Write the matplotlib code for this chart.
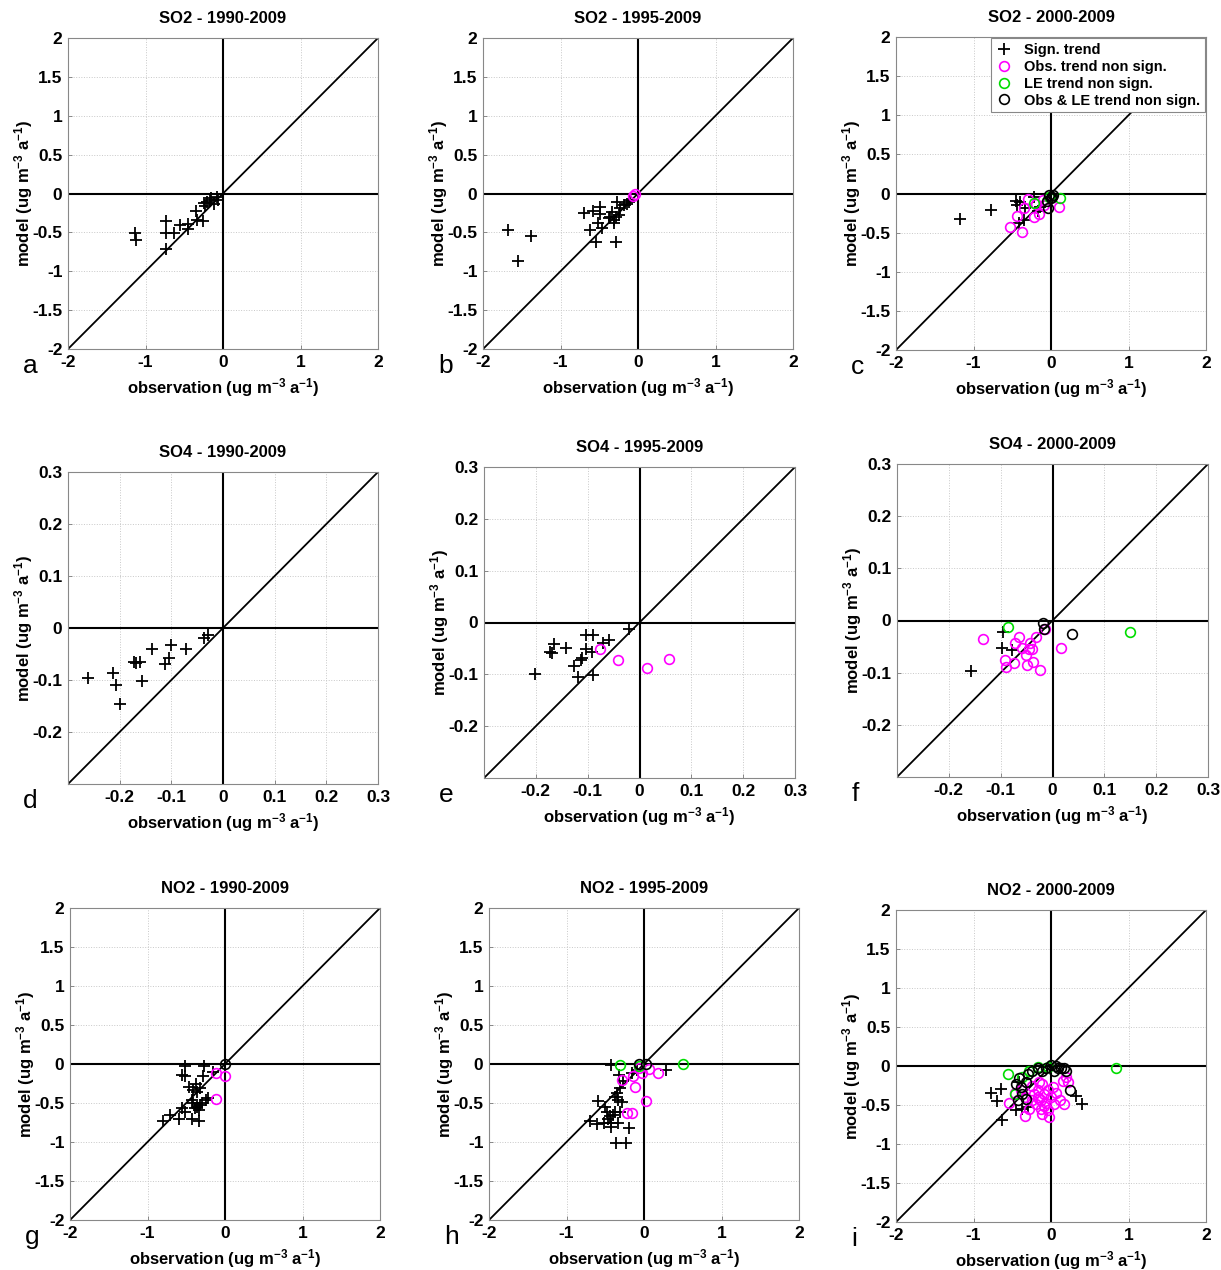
import matplotlib
matplotlib.use('Agg')
import matplotlib.pyplot as plt
import numpy as np

plt.rcParams['font.family'] = ['Liberation Sans', 'DejaVu Sans']
plt.rcParams['font.weight'] = 'bold'
plt.rcParams['axes.unicode_minus'] = False
plt.rcParams['mathtext.fontset'] = 'custom'
plt.rcParams['mathtext.rm'] = 'Liberation Sans:bold'
plt.rcParams['mathtext.default'] = 'rm'

# (observation, model) trend pairs
# sig = both significant, obs = obs. non sign., le = LE non sign., both = both non sign.
so2_90_sig = [(-1.14, -0.51), (-1.12, -0.60), (-0.74, -0.35), (-0.74, -0.51), (-0.73, -0.71),
              (-0.63, -0.51), (-0.56, -0.41), (-0.45, -0.39), (-0.45, -0.46), (-0.35, -0.23),
              (-0.34, -0.34), (-0.26, -0.36), (-0.25, -0.12), (-0.21, -0.11), (-0.17, -0.09),
              (-0.12, -0.13), (-0.08, -0.04), (-0.23, -0.16), (-0.15, -0.06), (-0.06, -0.08)]
so2_90_obs, so2_90_le, so2_90_both = [], [], []

so2_95_sig = [(-1.68, -0.47), (-1.38, -0.55), (-1.55, -0.87), (-0.70, -0.25), (-0.58, -0.23),
              (-0.49, -0.17), (-0.49, -0.26), (-0.62, -0.47), (-0.54, -0.62), (-0.51, -0.38),
              (-0.47, -0.44), (-0.38, -0.32), (-0.34, -0.24), (-0.31, -0.34), (-0.31, -0.38),
              (-0.28, -0.63), (-0.27, -0.11), (-0.25, -0.28), (-0.23, -0.19), (-0.18, -0.15),
              (-0.14, -0.13), (-0.10, -0.09), (-0.12, -0.11), (-0.36, -0.30), (-0.29, -0.30)]
so2_95_obs = [(-0.07, -0.03), (-0.04, -0.01)]
so2_95_le, so2_95_both = [], []

so2_00_sig = [(-1.17, -0.32), (-0.78, -0.21), (-0.45, -0.10), (-0.40, -0.11), (-0.44, -0.15),
              (-0.34, -0.19), (-0.41, -0.38), (-0.35, -0.34), (-0.17, -0.22), (-0.14, -0.17),
              (-0.22, -0.04)]
so2_00_obs = [(-0.53, -0.43), (-0.44, -0.29), (-0.38, -0.49), (-0.35, -0.19), (-0.30, -0.07),
              (-0.22, -0.30), (-0.16, -0.26), (-0.10, -0.08), (0.10, -0.17), (-0.09, -0.15),
              (-0.19, -0.14)]
so2_00_le = [(-0.22, -0.12), (0.12, -0.06), (-0.03, -0.04)]
so2_00_both = [(-0.03, -0.02), (0.01, -0.04), (-0.04, -0.19), (0.0, -0.06), (0.03, -0.02),
               (-0.05, -0.09)]

so4_90_sig = [(-0.262, -0.097), (-0.213, -0.087), (-0.208, -0.110), (-0.200, -0.147),
              (-0.173, -0.065), (-0.161, -0.065), (-0.157, -0.102), (-0.137, -0.040),
              (-0.113, -0.070), (-0.105, -0.057), (-0.101, -0.033), (-0.071, -0.040),
              (-0.036, -0.019), (-0.030, -0.014), (-0.168, -0.067)]
so4_90_obs, so4_90_le, so4_90_both = [], [], []

so4_95_sig = [(-0.201, -0.100), (-0.172, -0.057), (-0.169, -0.058), (-0.164, -0.042),
              (-0.141, -0.050), (-0.127, -0.084), (-0.119, -0.105), (-0.113, -0.073),
              (-0.111, -0.069), (-0.104, -0.024), (-0.103, -0.052), (-0.090, -0.024),
              (-0.092, -0.057), (-0.089, -0.101), (-0.071, -0.040), (-0.058, -0.033),
              (-0.021, -0.013)]
so4_95_obs = [(-0.076, -0.052), (-0.041, -0.073), (0.015, -0.087), (0.056, -0.071)]
so4_95_le, so4_95_both = [], []

so4_00_sig = [(-0.158, -0.096), (-0.098, -0.052), (-0.095, -0.023), (-0.079, -0.057)]
so4_00_obs = [(-0.135, -0.035), (-0.091, -0.075), (-0.090, -0.089), (-0.075, -0.081),
              (-0.073, -0.044), (-0.065, -0.031), (-0.059, -0.052), (-0.051, -0.067),
              (-0.050, -0.086), (-0.044, -0.043), (-0.040, -0.054), (-0.038, -0.079),
              (-0.032, -0.031), (-0.024, -0.094), (-0.014, -0.017), (0.016, -0.052),
              (-0.046, -0.055)]
so4_00_le = [(-0.085, -0.012), (0.150, -0.022)]
so4_00_both = [(-0.019, -0.004), (-0.016, -0.017), (0.037, -0.025)]

no2_90_sig = [(-0.80, -0.73), (-0.71, -0.65), (-0.59, -0.70), (-0.56, -0.57), (-0.55, -0.14),
              (-0.52, -0.03), (-0.52, -0.15), (-0.52, -0.61), (-0.43, -0.70), (-0.46, -0.29),
              (-0.43, -0.46), (-0.41, -0.50), (-0.39, -0.57), (-0.37, -0.25), (-0.36, -0.36),
              (-0.34, -0.73), (-0.34, -0.59), (-0.32, -0.53), (-0.30, -0.50), (-0.28, -0.16),
              (-0.27, -0.03), (-0.25, -0.46), (-0.22, -0.44), (-0.15, -0.10), (-0.41, -0.33),
              (-0.32, -0.31), (-0.36, -0.55)]
no2_90_obs = [(-0.11, -0.11), (0.00, -0.15), (-0.11, -0.45)]
no2_90_le = []
no2_90_both = [(0.0, 0.0)]

no2_95_sig = [(-0.43, -0.01), (-0.32, -0.14), (-0.15, -0.12), (-0.09, -0.08), (0.28, -0.08),
              (-0.27, -0.22), (-0.31, -0.31), (-0.35, -0.37), (-0.37, -0.42), (-0.34, -0.46),
              (-0.59, -0.47), (-0.29, -0.49), (-0.50, -0.55), (-0.48, -0.61), (-0.37, -0.61),
              (-0.31, -0.61), (-0.70, -0.73), (-0.61, -0.77), (-0.52, -0.76), (-0.46, -0.71),
              (-0.43, -0.75), (-0.42, -0.81), (-0.33, -0.75), (-0.20, -0.82), (-0.36, -1.01),
              (-0.23, -1.01), (-0.44, -0.67), (-0.40, -0.65)]
no2_95_obs = [(-0.29, -0.20), (-0.14, -0.16), (-0.11, -0.29), (-0.03, -0.11), (0.06, -0.07),
              (0.18, -0.12), (0.03, -0.47), (-0.22, -0.63), (-0.16, -0.63), (-0.07, -0.05)]
no2_95_le = [(-0.31, -0.01), (0.50, 0.0), (-0.06, -0.03)]
no2_95_both = [(-0.07, 0.0), (0.03, 0.0)]

no2_00_sig = [(-0.78, -0.34), (-0.65, -0.29), (-0.70, -0.45), (-0.63, -0.69), (-0.45, -0.57),
              (-0.30, -0.53), (0.32, -0.38), (0.40, -0.49), (-0.41, -0.21), (-0.37, -0.55)]
no2_00_obs = [(-0.54, -0.47), (-0.47, -0.34), (-0.39, -0.31), (-0.34, -0.40), (-0.34, -0.64),
              (-0.28, -0.55), (-0.24, -0.25), (-0.22, -0.36), (-0.19, -0.49), (-0.17, -0.31),
              (-0.15, -0.42), (-0.13, -0.55), (-0.11, -0.23), (-0.09, -0.36), (-0.06, -0.47),
              (-0.04, -0.57), (-0.02, -0.66), (0.00, -0.40), (0.02, -0.27), (0.04, -0.49),
              (0.06, -0.34), (0.11, -0.44), (0.15, -0.19), (0.17, -0.49), (0.19, -0.14),
              (0.22, -0.21), (-0.15, -0.21), (-0.24, -0.44), (-0.09, -0.51), (-0.13, -0.44),
              (-0.04, -0.31), (-0.17, -0.40), (-0.11, -0.62)]
no2_00_le = [(-0.55, -0.10), (0.84, -0.03), (-0.37, -0.14), (-0.28, -0.06), (-0.17, -0.01),
             (-0.04, -0.01), (-0.47, -0.36)]
no2_00_both = [(-0.45, -0.23), (-0.41, -0.16), (-0.39, -0.27), (-0.32, -0.21), (-0.30, -0.10),
               (-0.24, -0.06), (-0.17, -0.03), (-0.11, -0.06), (-0.06, -0.02), (0.00, 0.01),
               (0.06, 0.00), (0.09, -0.02), (0.13, -0.03), (0.19, -0.06), (0.24, -0.31),
               (-0.37, -0.36), (-0.32, -0.42), (-0.43, -0.44), (0.17, -0.03), (0.04, -0.06)]

titles = ['SO2 - 1990-2009', 'SO2 - 1995-2009', 'SO2 - 2000-2009',
          'SO4 - 1990-2009', 'SO4 - 1995-2009', 'SO4 - 2000-2009',
          'NO2 - 1990-2009', 'NO2 - 1995-2009', 'NO2 - 2000-2009']
letters = list('abcdefghi')
panels = [(so2_90_sig, so2_90_obs, so2_90_le, so2_90_both),
          (so2_95_sig, so2_95_obs, so2_95_le, so2_95_both),
          (so2_00_sig, so2_00_obs, so2_00_le, so2_00_both),
          (so4_90_sig, so4_90_obs, so4_90_le, so4_90_both),
          (so4_95_sig, so4_95_obs, so4_95_le, so4_95_both),
          (so4_00_sig, so4_00_obs, so4_00_le, so4_00_both),
          (no2_90_sig, no2_90_obs, no2_90_le, no2_90_both),
          (no2_95_sig, no2_95_obs, no2_95_le, no2_95_both),
          (no2_00_sig, no2_00_obs, no2_00_le, no2_00_both)]

W, H = 1221, 1270
# axes boxes in pixels: left, top, right, bottom
boxes = [(68, 38, 378, 349), (483, 38, 793, 349), (896, 37, 1206, 350),
         (68, 472, 378, 784), (484, 467, 795, 778), (897, 464, 1208, 777),
         (70, 908, 380, 1220), (489, 908, 799, 1220), (896, 910, 1206, 1222)]

fig = plt.figure(figsize=(W / 100, H / 100), dpi=100)
unit = ' (ug m$^{-3}$ a$^{-1}$)'

for k in range(9):
    l, t, r, b = boxes[k]
    ax = fig.add_axes([l / W, 1 - b / H, (r - l) / W, (b - t) / H])
    if k in (3, 4, 5):
        lim = 0.3
        ticks = [-0.2, -0.1, 0, 0.1, 0.2, 0.3]
        labels = ['-0.2', '-0.1', '0', '0.1', '0.2', '0.3']
        yticks, ylabels = ticks, labels
    else:
        lim = 2
        ticks = [-2, -1, 0, 1, 2]
        labels = ['-2', '-1', '0', '1', '2']
        yticks = [-2, -1.5, -1, -0.5, 0, 0.5, 1, 1.5, 2]
        ylabels = ['-2', '-1.5', '-1', '-0.5', '0', '0.5', '1', '1.5', '2']
    ax.set_xlim(-lim, lim)
    ax.set_ylim(-lim, lim)
    ax.plot([-lim, lim], [-lim, lim], color='black', lw=1.3, zorder=2)
    ax.axhline(0, color='black', lw=1.5, zorder=2)
    ax.axvline(0, color='black', lw=1.5, zorder=2)

    sig, obs, le, both = panels[k]
    h1, = ax.plot([p[0] for p in sig], [p[1] for p in sig], '+', color='black',
                  ms=8, mew=1.3, zorder=3, label='Sign. trend')
    h2, = ax.plot([p[0] for p in obs], [p[1] for p in obs], 'o', mfc='none', mec='#ff00ff',
                  ms=7, mew=1.2, zorder=3, label='Obs. trend non sign.')
    h3, = ax.plot([p[0] for p in le], [p[1] for p in le], 'o', mfc='none', mec='#00dd00',
                  ms=7, mew=1.2, zorder=3, label='LE trend non sign.')
    h4, = ax.plot([p[0] for p in both], [p[1] for p in both], 'o', mfc='none', mec='black',
                  ms=7, mew=1.2, zorder=3, label='Obs & LE trend non sign.')

    ax.set_xticks(ticks)
    ax.set_xticklabels(labels)
    ax.set_yticks(yticks)
    ax.set_yticklabels(ylabels)
    ax.tick_params(direction='in', length=3, width=0.6, color='#777777',
                   labelsize=12.5, pad=4)
    ax.grid(True, linestyle=':', color='#c8c8c8', lw=0.7)
    ax.set_axisbelow(True)
    for s in ax.spines.values():
        s.set_color('#888888')
        s.set_linewidth(0.8)

    ax.set_title(titles[k], fontsize=12, fontweight='bold', pad=11)
    ax.set_xlabel('observation' + unit, fontsize=12, fontweight='bold', labelpad=5)
    ax.set_ylabel('model' + unit, fontsize=12, fontweight='bold', labelpad=-2)

    fig.text((l - 45) / W, 1 - (b + 24) / H, letters[k], fontsize=19,
             fontweight='normal', ha='left', va='baseline')

    if k == 2:
        leg = ax.legend(handles=[h1, h2, h3, h4], loc='upper right', fontsize=10.5,
                        frameon=True, fancybox=False, framealpha=1,
                        edgecolor='#888888', borderpad=0.3, labelspacing=0.2,
                        handlelength=1.2, handletextpad=0.8, borderaxespad=0.1)
        leg.get_frame().set_linewidth(0.8)

fig.savefig('out.png', dpi=100)
